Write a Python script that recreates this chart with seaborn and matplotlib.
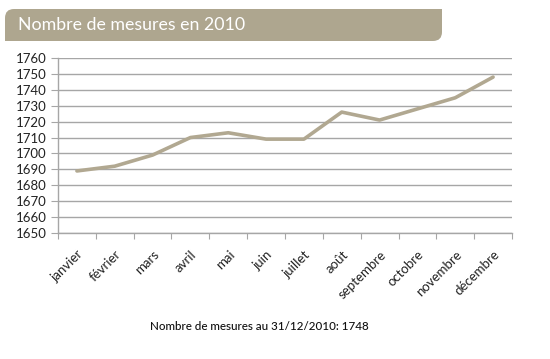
import matplotlib
matplotlib.use("Agg")
import matplotlib.pyplot as plt
from matplotlib.path import Path
from matplotlib.patches import PathPatch
import seaborn as sns
import pandas as pd
import numpy as np

# data
mois = ["janvier", "février", "mars", "avril", "mai", "juin", "juillet",
        "août", "septembre", "octobre", "novembre", "décembre"]
mesures = [1689, 1692, 1699, 1710, 1713, 1709, 1709, 1726, 1721, 1728, 1735, 1748]
y_ticks = list(range(1650, 1761, 10))

titre = "Nombre de mesures en 2010"
note = "Nombre de mesures au 31/12/2010: 1748"

sns.set_style("white")
plt.rcParams["font.family"] = ["Lato", "DejaVu Sans"]

line_col = "#b1a891"
grid_col = "#a6a6a6"

fig = plt.figure(figsize=(5.5, 3.59), dpi=100)
ax = fig.add_axes([58 / 550, 1 - 233 / 359, 454 / 550, 175 / 359])

df = pd.DataFrame({"pos": np.arange(len(mois)), "mesures": mesures})
sns.lineplot(data=df, x="pos", y="mesures", ax=ax, color=line_col, linewidth=2.6)

ax.set_xlim(-0.5, len(mois) - 0.5)
ax.set_ylim(y_ticks[0], y_ticks[-1])
ax.set_yticks(y_ticks)
ax.yaxis.grid(True, color=grid_col, linewidth=1)
ax.set_axisbelow(True)
ax.tick_params(axis="y", labelsize=9.5, length=5, color=grid_col, labelcolor="#222222", pad=3, left=True)

# category labels at centres, tick marks at boundaries (Excel style)
ax.set_xticks(np.arange(-0.5, len(mois)), labels=[""] * (len(mois) + 1))
ax.tick_params(axis="x", which="major", length=4, color=grid_col, bottom=True)
ax.set_xticks(np.arange(len(mois)), minor=True)
ax.set_xticklabels(mois, minor=True, rotation=45, ha="right", rotation_mode="anchor",
                   fontsize=9.5, color="#222222")
ax.tick_params(axis="x", which="minor", length=0, pad=11)
ax.set_xlabel("")
ax.set_ylabel("")

for s in ["top", "right"]:
    ax.spines[s].set_visible(False)
for s in ["left", "bottom"]:
    ax.spines[s].set_color(grid_col)
    ax.spines[s].set_linewidth(1)

# title band with rounded top-left and bottom-right corners (figure pixels)
x0, x1, y0, y1, r = 5, 442, 359 - 41, 359 - 9, 9
verts = [(x0, y0), (x1 - r, y0), (x1, y0), (x1, y0 + r), (x1, y1), (x0 + r, y1),
         (x0, y1), (x0, y1 - r), (x0, y0)]
codes = [Path.MOVETO, Path.LINETO, Path.CURVE3, Path.CURVE3, Path.LINETO, Path.LINETO,
         Path.CURVE3, Path.CURVE3, Path.CLOSEPOLY]
verts = [(vx / 550, vy / 359) for vx, vy in verts]
band = PathPatch(Path(verts, codes), transform=fig.transFigure, facecolor="#aea68f",
                 edgecolor="none")
fig.patches.append(band)
fig.text(18 / 550, 1 - 25 / 359, titre, color="white", fontsize=12.8, va="center", ha="left")

fig.text(259 / 550, 1 - 326 / 359, note, color="#111111", fontsize=8.4, ha="center", va="center",
         fontweight="medium")

fig.savefig("out.png", dpi=100)
